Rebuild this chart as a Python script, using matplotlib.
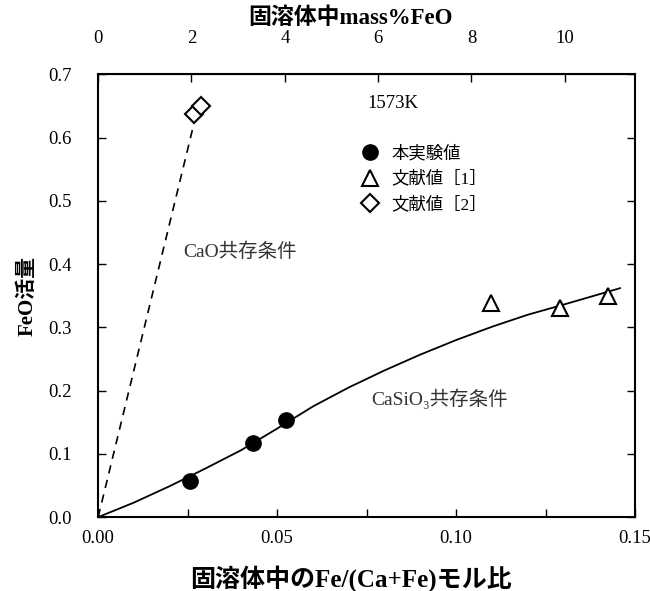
import numpy as np
import matplotlib
matplotlib.use("Agg")
import matplotlib.pyplot as plt

plt.rcParams['font.family'] = ['Liberation Serif', 'Noto Sans CJK JP']

# 本実験値
exp_x = [0.0257, 0.0433, 0.0525]
exp_y = [0.057, 0.117, 0.153]

# 文献値 [1]
lit1_x = [0.1097, 0.1290, 0.1425]
lit1_y = [0.338, 0.331, 0.350]

# 文献値 [2]
lit2_x = [0.0268, 0.0286]
lit2_y = [0.637, 0.650]

# CaO共存条件 (破線)
cao_x = [0.0, 0.0270]
cao_y = [0.0, 0.628]

# CaSiO3共存条件 (実線)
casio3_x = [0.0, 0.01, 0.02, 0.03, 0.04, 0.05, 0.06, 0.07, 0.08,
            0.09, 0.10, 0.11, 0.12, 0.13, 0.1458]
casio3_y = [0.0, 0.023, 0.049, 0.077, 0.106, 0.140, 0.175, 0.205, 0.232,
            0.257, 0.280, 0.301, 0.320, 0.336, 0.362]

X_TO_MASS = 76.7  # モル比 -> mass%FeO

fig = plt.figure(figsize=(6.5, 5.91), dpi=100)
ax = fig.add_axes([0.151, 0.125, 0.826, 0.749])

ax.plot(cao_x, cao_y, 'k--', lw=1.2, dashes=(5, 4))
ax.plot(casio3_x, casio3_y, 'k-', lw=1.3)

ax.plot(exp_x, exp_y, 'o', color='black', ms=11, label='本実験値', zorder=5)
ax.plot(lit1_x, lit1_y, '^', mfc='white', mec='black', mew=1.5, ms=12,
        label='文献値［1］', zorder=5)
ax.plot(lit2_x, lit2_y, 'D', mfc='white', mec='black', mew=1.5, ms=9,
        label='文献値［2］', zorder=5)

ax.set_xlim(0, 0.15)
ax.set_ylim(0, 0.7)
ax.set_xticks(np.arange(0, 0.151, 0.025))
ax.set_xticklabels(['0.00', '', '0.05', '', '0.10', '', '0.15'])
ax.set_yticks(np.arange(0, 0.71, 0.1))
ax.set_yticklabels([f'{v:.1f}' for v in np.arange(0, 0.71, 0.1)])
ax.tick_params(direction='in', length=6, width=1, labelsize=13.5,
               right=True)
ax.tick_params(axis='x', pad=9)
ax.tick_params(axis='y', pad=19)
for sp in ax.spines.values():
    sp.set_linewidth(1.5)

ax.set_xlabel('固溶体中のFe/(Ca+Fe)モル比', fontsize=18, fontweight='bold',
              labelpad=13)
ax.xaxis.label.set_x(0.47)
ax.set_ylabel('FeO活量', fontsize=15, fontweight='bold', labelpad=8)

# 上軸 mass%FeO
top = ax.secondary_xaxis('top', functions=(lambda x: x * X_TO_MASS,
                                          lambda m: m / X_TO_MASS))
top.set_xticks([0, 2, 4, 6, 8, 10])
top.tick_params(direction='in', length=6, width=1, labelsize=13.5, pad=20)
top.set_xlabel('固溶体中mass%FeO', fontsize=16.5, fontweight='bold', labelpad=4)
top.xaxis.label.set_x(0.47)

ax.text(0.0752, 0.654, '1573K', fontsize=13.5, va='center', ha='left')
ax.text(0.0238, 0.42, 'CaO共存条件', fontsize=14, va='center', ha='left',
        color='#333333')
ax.text(0.0763, 0.188, 'CaSiO₃共存条件', fontsize=14, va='center',
        ha='left', color='#333333')

ax.legend(loc='upper left', bbox_to_anchor=(0.47, 0.855), frameon=False,
          fontsize=12.5, handletextpad=0.45, labelspacing=0.5,
          borderaxespad=0, handlelength=1.5)

fig.savefig('out.png', dpi=100)
